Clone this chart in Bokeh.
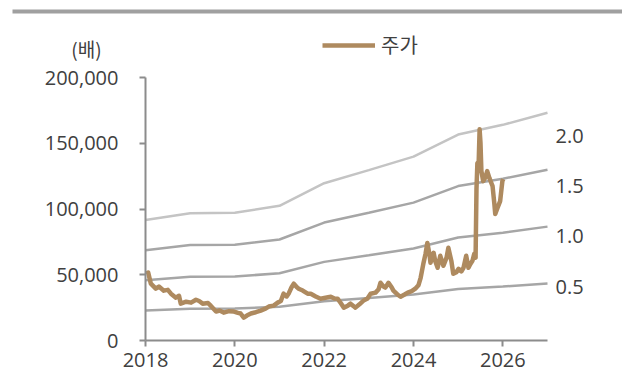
from bokeh.plotting import figure
from bokeh.models import (Range1d, LinearAxis, FixedTicker, NumeralTickFormatter,
                          Legend, LegendItem, Label, BoxAnnotation)
from bokeh.embed import file_html
from bokeh.resources import INLINE

# Share price (원), sampled at fractional-year dates
price_t = [
    2018.01, 2018.06, 2018.12, 2018.23, 2018.30, 2018.41, 2018.50, 2018.57, 2018.68, 2018.75,
    2018.79, 2018.91, 2019.02, 2019.13, 2019.20, 2019.28, 2019.40, 2019.46, 2019.58, 2019.66,
    2019.75, 2019.87, 2019.98, 2020.07, 2020.13, 2020.20, 2020.27, 2020.36, 2020.47, 2020.58,
    2020.67, 2020.76, 2020.87, 2020.96, 2021.03, 2021.09, 2021.16, 2021.21, 2021.27, 2021.32,
    2021.39, 2021.43, 2021.52, 2021.63, 2021.70, 2021.81, 2021.92, 2022.03, 2022.15, 2022.23,
    2022.30, 2022.37, 2022.44, 2022.53, 2022.59, 2022.66, 2022.70, 2022.79, 2022.88, 2022.97,
    2023.04, 2023.15, 2023.22, 2023.26, 2023.33, 2023.37, 2023.44, 2023.51, 2023.55, 2023.64,
    2023.71, 2023.80, 2023.87, 2023.96, 2024.04, 2024.11, 2024.16, 2024.22, 2024.27, 2024.31,
    2024.36, 2024.38, 2024.45, 2024.49, 2024.54, 2024.60, 2024.67, 2024.74, 2024.78, 2024.85,
    2024.89, 2024.96, 2025.01, 2025.07, 2025.12, 2025.18, 2025.23, 2025.27, 2025.32, 2025.36,
    2025.39, 2025.41, 2025.43, 2025.46, 2025.48, 2025.50, 2025.52, 2025.56, 2025.61, 2025.65,
    2025.70, 2025.74, 2025.77, 2025.81, 2025.83, 2025.88, 2025.94, 2025.99, 2026.01,
]
price = [
    50800, 51700, 43200, 39400, 41000, 37900, 38500, 35600, 32600, 34000,
    28000, 29500, 28800, 31000, 30000, 28000, 28500, 26500, 22000, 22800,
    21200, 22300, 22000, 21000, 20500, 17400, 19000, 20500, 21500, 22700,
    24000, 25800, 26500, 28800, 30000, 35600, 33500, 36000, 40500, 43200,
    40500, 39400, 38000, 35600, 35600, 33500, 31800, 32500, 33300, 32000,
    31800, 28500, 25000, 26500, 28000, 26000, 25000, 27500, 30300, 32000,
    35600, 36400, 39000, 43900, 41000, 40200, 43900, 40500, 37900, 35000,
    33300, 35000, 36400, 37500, 39400, 42000, 47700, 58300, 66000, 74200,
    65000, 59100, 66700, 60000, 55300, 64400, 56800, 63000, 70500, 60000,
    50800, 52000, 54500, 52500, 55300, 64400, 55300, 58000, 60600, 65900,
    63000, 115000, 134800, 136000, 160600, 150000, 128800, 121200, 124000, 128800,
    123500, 120000, 117400, 104000, 96200, 100800, 106000, 121200, 122700,
]

# Book value per share (원) at the start of each year
bps_t = [2018, 2019, 2020, 2021, 2022, 2023, 2024, 2025, 2026, 2027]
bps = [45800, 48400, 48600, 51200, 59800, 64800, 69900, 78300, 82000, 86600]

# P/B multiples for the band lines
multiples = [0.5, 1.0, 1.5, 2.0]
band_colors = ["#a6a6a6", "#a6a6a6", "#a6a6a6", "#c4c4c4"]

x_ticks = [2018, 2020, 2022, 2024, 2026]
y_ticks = [0, 50000, 100000, 150000, 200000]

TEXT = "#404040"
AXIS = "#8c8c8c"
PRICE = "#ae8a5f"
FONT = "Open Sans"
KFONT = "Noto Sans CJK KR"

W, H = 622, 387
# Plot area in canvas pixels; the frame spans the whole canvas and the
# ranges are padded so the axes sit at these edges.
AX_L, AX_R, AX_T, AX_B = 145, 547, 77, 340
X0, X1 = 2018, 2027
Y0, Y1 = 0, 200000
PB0, PB1 = -0.035, 2.58

def padded(lo, hi, px_lo, px_hi, extent_lo, extent_hi):
    per_px = (hi - lo) / (px_hi - px_lo)
    return Range1d(lo - (px_lo - extent_lo) * per_px, hi + (extent_hi - px_hi) * per_px)

x_range = padded(X0, X1, AX_L, AX_R, 0, W)
y_range = padded(Y0, Y1, H - AX_B, H - AX_T, 0, H)
pb_range = padded(PB0, PB1, H - AX_B, H - AX_T, 0, H)

p = figure(width=W, height=H, output_backend="svg", toolbar_location=None,
           x_range=x_range, y_range=y_range,
           min_border_left=0, min_border_right=0, min_border_top=0,
           min_border_bottom=0)
p.outline_line_color = None
p.xgrid.visible = False
p.ygrid.visible = False
p.background_fill_color = "white"
p.border_fill_color = "white"

for m, c in zip(multiples, band_colors):
    p.line(bps_t, [b * m for b in bps], line_color=c, line_width=2.5)

price_r = p.line(price_t, price, line_color=PRICE, line_width=4.5, line_join="round")

xa = p.xaxis[0]
xa.ticker = FixedTicker(ticks=x_ticks)
xa.formatter = NumeralTickFormatter(format="0")
xa.fixed_location = Y0
xa.bounds = (X0, X1)
ya = p.yaxis[0]
ya.ticker = FixedTicker(ticks=y_ticks)
ya.formatter = NumeralTickFormatter(format="0,0")
ya.fixed_location = X0
ya.bounds = (Y0, Y1)

for ax in (xa, ya):
    ax.axis_line_color = AXIS
    ax.axis_line_width = 2
    ax.major_tick_line_color = AXIS
    ax.major_tick_line_width = 2
    ax.major_tick_in = 0
    ax.major_tick_out = 6
    ax.minor_tick_line_color = None
    ax.major_label_text_font = FONT
    ax.major_label_text_font_size = "20px"
    ax.major_label_text_color = TEXT
xa.major_label_standoff = 6
ya.major_label_standoff = 21

# Right axis: P/B multiple labels beside the band ends
p.extra_y_ranges = {"pb": pb_range}
ra = LinearAxis(y_range_name="pb", ticker=FixedTicker(ticks=multiples),
                formatter=NumeralTickFormatter(format="0.0"), fixed_location=X1)
ra.axis_line_color = None
ra.major_tick_line_color = None
ra.minor_tick_line_color = None
ra.major_tick_in = 0
ra.major_tick_out = 0
ra.major_label_standoff = 8
ra.major_label_text_font = FONT
ra.major_label_text_font_size = "20px"
ra.major_label_text_color = TEXT
p.add_layout(ra, "right")

# Header rule across the top
p.add_layout(BoxAnnotation(left=12, right=W, top=H - 9, bottom=H - 13,
                           left_units="screen", right_units="screen",
                           top_units="screen", bottom_units="screen",
                           fill_color="#a0a0a0", fill_alpha=1, line_color=None))

# Unit label above the left axis
p.add_layout(Label(x=86, y=H - 48, x_units="screen", y_units="screen", text="(배)",
                   text_align="center", text_baseline="middle", text_font=KFONT,
                   text_font_size="19px", text_color=TEXT))

legend = Legend(items=[LegendItem(label="주가", renderers=[price_r])],
                location=(322, H - 59), orientation="horizontal",
                glyph_width=53, glyph_height=20, label_height=20, label_standoff=6,
                padding=0, margin=0, spacing=0,
                border_line_color=None, background_fill_alpha=0,
                label_text_font=KFONT, label_text_font_size="20px",
                label_text_color=TEXT)
p.add_layout(legend)

open("out.html", "w").write(file_html(p, INLINE))
